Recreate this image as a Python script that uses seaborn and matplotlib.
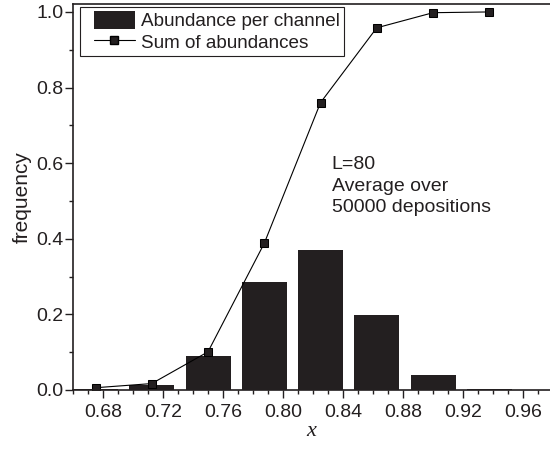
import matplotlib
matplotlib.use("Agg")
import matplotlib.pyplot as plt
import pandas as pd
import seaborn as sns
from matplotlib.patches import Patch
from matplotlib.lines import Line2D
from matplotlib.legend_handler import HandlerPatch, HandlerLine2D
from matplotlib.ticker import MultipleLocator, FormatStrFormatter

# Channel centres (x) and per-channel abundance, plus the running sum
channels = [0.675, 0.7125, 0.75, 0.7875, 0.825, 0.8625, 0.9, 0.9375]
abundance = [0.002, 0.012, 0.089, 0.286, 0.370, 0.198, 0.040, 0.003]
cumulative = [0.006, 0.017, 0.101, 0.388, 0.760, 0.958, 0.998, 1.000]

bar_label = "Abundance per channel"
line_label = "Sum of abundances"
note = "L=80\nAverage over\n50000 depositions"

BAR = "#231f20"
INK = "#231f20"

sns.set_theme(style="ticks")
plt.rcParams["font.family"] = ["Liberation Sans", "DejaVu Sans"]

df = pd.DataFrame({"x": channels, "abundance": abundance, "sum": cumulative})

fig = plt.figure(figsize=(5.5, 4.59), dpi=100)
ax = fig.add_axes([73 / 550, 1 - 390 / 459, 477 / 550, 386 / 459])

sns.barplot(data=df, x="x", y="abundance", native_scale=True, color=BAR,
            saturation=1, width=0.8, linewidth=0, ax=ax)
sns.lineplot(data=df, x="x", y="sum", color="black", lw=0.8, marker="s",
             markersize=6, markeredgecolor="black", markerfacecolor=BAR,
             ax=ax)

ax.set_xlim(0.66, 0.978)
ax.set_ylim(0, 1.021)

ax.xaxis.set_major_locator(MultipleLocator(0.04))
ax.xaxis.set_minor_locator(MultipleLocator(0.01))
ax.xaxis.set_major_formatter(FormatStrFormatter("%.2f"))
ax.yaxis.set_major_locator(MultipleLocator(0.2))
ax.yaxis.set_minor_locator(MultipleLocator(0.1))
ax.yaxis.set_major_formatter(FormatStrFormatter("%.1f"))

ax.tick_params(axis="both", which="major", direction="out", length=5.5,
               width=1.0, color=INK, labelsize=14, labelcolor=INK)
ax.tick_params(axis="both", which="minor", direction="out", length=3.2,
               width=1.0, color=INK)
ax.tick_params(axis="x", which="major", pad=4.5)
ax.tick_params(axis="y", which="major", pad=1.5)

for side in ("left", "bottom", "top"):
    ax.spines[side].set_color(INK)
    ax.spines[side].set_linewidth(1.2)
ax.spines["right"].set_visible(False)

ax.set_ylabel("frequency", fontsize=15, color=INK, labelpad=3)
ax.set_xlabel("x", fontsize=16, color=INK, labelpad=1,
              fontfamily="Liberation Serif", fontstyle="italic")

handles = [
    Patch(facecolor=BAR, edgecolor=BAR, linewidth=0),
    Line2D([], [], color="black", lw=0.8, marker="s", markersize=6,
           markerfacecolor=BAR, markeredgecolor="black"),
]
leg = ax.legend(handles, [bar_label, line_label], loc="upper left",
                bbox_to_anchor=(0.0147, 0.992), borderaxespad=0,
                fontsize=13.6, frameon=True, fancybox=False,
                edgecolor=INK, framealpha=1, handlelength=2.7,
                handleheight=1.05, handletextpad=0.3, labelspacing=0.1,
                borderpad=0.22,
                handler_map={Patch: HandlerPatch(xpad=0.5),
                             Line2D: HandlerLine2D(xpad=0.5)})
leg.get_frame().set_linewidth(0.8)
for t in leg.get_texts():
    t.set_color(INK)

ax.text(0.8325, 0.619, note, fontsize=14, color=INK, va="top",
        ha="left", linespacing=1.36)

fig.savefig("out.png", dpi=100)
